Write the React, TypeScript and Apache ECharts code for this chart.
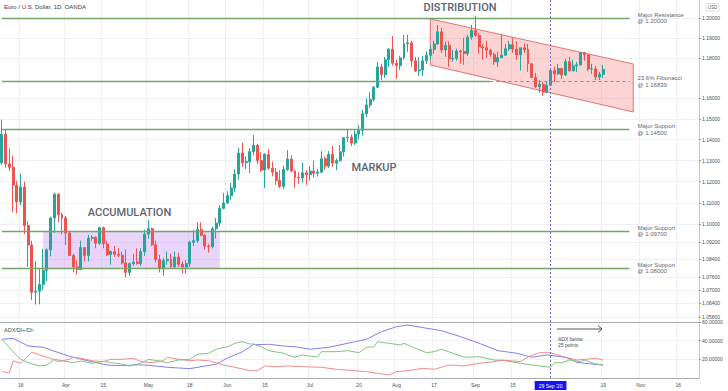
import React, { useEffect, useRef } from 'react';
import * as echarts from 'echarts';

// ---------- calendar (weekday bars) ----------
const FIRST_DAY = '2020-03-09';
const LAST_DAY = '2020-11-23';

// ---------- daily candles: [MM-DD, open, high, low, close] ----------
const candles: [string, number, number, number, number][] = [
  ['03-09', 1.1289, 1.1496, 1.1279, 1.1426],
  ['03-10', 1.1426, 1.1451, 1.1267, 1.1284],
  ['03-11', 1.1284, 1.1358, 1.1250, 1.1268],
  ['03-12', 1.1268, 1.1323, 1.1056, 1.1184],
  ['03-13', 1.1184, 1.1204, 1.1052, 1.1105],
  ['03-16', 1.1105, 1.1238, 1.1090, 1.1175],
  ['03-17', 1.1175, 1.1200, 1.0955, 1.0995],
  ['03-18', 1.0995, 1.1015, 1.0805, 1.0905],
  ['03-19', 1.0905, 1.0925, 1.0655, 1.0690],
  ['03-20', 1.0690, 1.0830, 1.0635, 1.0695],
  ['03-23', 1.0695, 1.0800, 1.0636, 1.0725],
  ['03-24', 1.0725, 1.0888, 1.0700, 1.0790],
  ['03-25', 1.0790, 1.0890, 1.0740, 1.0883],
  ['03-26', 1.0883, 1.1035, 1.0853, 1.1030],
  ['03-27', 1.1030, 1.1148, 1.0960, 1.1141],
  ['03-30', 1.1141, 1.1145, 1.1010, 1.1045],
  ['03-31', 1.1045, 1.1055, 1.0955, 1.1030],
  ['04-01', 1.1030, 1.1040, 1.0905, 1.0960],
  ['04-02', 1.0960, 1.0965, 1.0855, 1.0857],
  ['04-03', 1.0857, 1.0865, 1.0780, 1.0805],
  ['04-06', 1.0805, 1.0835, 1.0770, 1.0793],
  ['04-07', 1.0793, 1.0925, 1.0790, 1.0893],
  ['04-08', 1.0893, 1.0895, 1.0830, 1.0857],
  ['04-09', 1.0857, 1.0952, 1.0830, 1.0936],
  ['04-10', 1.0936, 1.0950, 1.0925, 1.0940],
  ['04-13', 1.0940, 1.0945, 1.0890, 1.0913],
  ['04-14', 1.0913, 1.0990, 1.0905, 1.0985],
  ['04-15', 1.0985, 1.0990, 1.0890, 1.0910],
  ['04-16', 1.0910, 1.0925, 1.0855, 1.0862],
  ['04-17', 1.0862, 1.0880, 1.0815, 1.0875],
  ['04-20', 1.0875, 1.0900, 1.0850, 1.0863],
  ['04-21', 1.0863, 1.0890, 1.0850, 1.0858],
  ['04-22', 1.0858, 1.0875, 1.0815, 1.0823],
  ['04-23', 1.0823, 1.0885, 1.0757, 1.0780],
  ['04-24', 1.0780, 1.0825, 1.0765, 1.0820],
  ['04-27', 1.0820, 1.0865, 1.0810, 1.0827],
  ['04-28', 1.0827, 1.0890, 1.0815, 1.0820],
  ['04-29', 1.0820, 1.0890, 1.0810, 1.0875],
  ['04-30', 1.0875, 1.0975, 1.0855, 1.0955],
  ['05-01', 1.0955, 1.1020, 1.0935, 1.0980],
  ['05-04', 1.0980, 1.0985, 1.0900, 1.0906],
  ['05-05', 1.0906, 1.0925, 1.0825, 1.0839],
  ['05-06', 1.0839, 1.0860, 1.0780, 1.0796],
  ['05-07', 1.0796, 1.0845, 1.0765, 1.0833],
  ['05-08', 1.0833, 1.0875, 1.0815, 1.0840],
  ['05-11', 1.0840, 1.0865, 1.0795, 1.0805],
  ['05-12', 1.0805, 1.0875, 1.0800, 1.0850],
  ['05-13', 1.0850, 1.0870, 1.0805, 1.0817],
  ['05-14', 1.0817, 1.0830, 1.0775, 1.0804],
  ['05-15', 1.0804, 1.0835, 1.0775, 1.0820],
  ['05-18', 1.0820, 1.0925, 1.0805, 1.0918],
  ['05-19', 1.0918, 1.0975, 1.0900, 1.0925],
  ['05-20', 1.0925, 1.1008, 1.0915, 1.0977],
  ['05-21', 1.0977, 1.1010, 1.0945, 1.0950],
  ['05-22', 1.0950, 1.0955, 1.0885, 1.0900],
  ['05-25', 1.0900, 1.0910, 1.0870, 1.0898],
  ['05-26', 1.0898, 1.0990, 1.0890, 1.0980],
  ['05-27', 1.0980, 1.1030, 1.0935, 1.1006],
  ['05-28', 1.1006, 1.1090, 1.0990, 1.1075],
  ['05-29', 1.1075, 1.1147, 1.1070, 1.1100],
  ['06-01', 1.1100, 1.1155, 1.1095, 1.1134],
  ['06-02', 1.1134, 1.1195, 1.1115, 1.1170],
  ['06-03', 1.1170, 1.1258, 1.1150, 1.1236],
  ['06-04', 1.1236, 1.1360, 1.1210, 1.1336],
  ['06-05', 1.1336, 1.1385, 1.1270, 1.1290],
  ['06-08', 1.1290, 1.1320, 1.1260, 1.1295],
  ['06-09', 1.1295, 1.1360, 1.1240, 1.1343],
  ['06-10', 1.1343, 1.1422, 1.1325, 1.1373],
  ['06-11', 1.1373, 1.1380, 1.1285, 1.1300],
  ['06-12', 1.1300, 1.1340, 1.1245, 1.1255],
  ['06-15', 1.1255, 1.1335, 1.1170, 1.1330],
  ['06-16', 1.1330, 1.1355, 1.1255, 1.1264],
  ['06-17', 1.1264, 1.1295, 1.1225, 1.1245],
  ['06-18', 1.1245, 1.1265, 1.1185, 1.1206],
  ['06-19', 1.1206, 1.1255, 1.1170, 1.1178],
  ['06-22', 1.1178, 1.1275, 1.1165, 1.1258],
  ['06-23', 1.1258, 1.1350, 1.1250, 1.1307],
  ['06-24', 1.1307, 1.1325, 1.1245, 1.1251],
  ['06-25', 1.1251, 1.1255, 1.1170, 1.1220],
  ['06-26', 1.1220, 1.1245, 1.1190, 1.1218],
  ['06-29', 1.1218, 1.1290, 1.1195, 1.1242],
  ['06-30', 1.1242, 1.1255, 1.1185, 1.1234],
  ['07-01', 1.1234, 1.1275, 1.1205, 1.1250],
  ['07-02', 1.1250, 1.1300, 1.1220, 1.1240],
  ['07-03', 1.1240, 1.1260, 1.1225, 1.1245],
  ['07-06', 1.1245, 1.1345, 1.1240, 1.1309],
  ['07-07', 1.1309, 1.1320, 1.1255, 1.1274],
  ['07-08', 1.1274, 1.1345, 1.1265, 1.1330],
  ['07-09', 1.1330, 1.1370, 1.1270, 1.1288],
  ['07-10', 1.1288, 1.1310, 1.1255, 1.1300],
  ['07-13', 1.1300, 1.1375, 1.1295, 1.1342],
  ['07-14', 1.1342, 1.1412, 1.1320, 1.1410],
  ['07-15', 1.1410, 1.1452, 1.1390, 1.1412],
  ['07-16', 1.1412, 1.1425, 1.1370, 1.1384],
  ['07-17', 1.1384, 1.1445, 1.1375, 1.1427],
  ['07-20', 1.1427, 1.1470, 1.1400, 1.1445],
  ['07-21', 1.1445, 1.1545, 1.1420, 1.1525],
  ['07-22', 1.1525, 1.1600, 1.1510, 1.1568],
  ['07-23', 1.1568, 1.1630, 1.1555, 1.1595],
  ['07-24', 1.1595, 1.1660, 1.1585, 1.1655],
  ['07-27', 1.1655, 1.1780, 1.1650, 1.1755],
  ['07-28', 1.1755, 1.1770, 1.1690, 1.1716],
  ['07-29', 1.1716, 1.1805, 1.1700, 1.1790],
  ['07-30', 1.1790, 1.1848, 1.1755, 1.1843],
  ['07-31', 1.1843, 1.1909, 1.1761, 1.1773],
  ['08-03', 1.1773, 1.1790, 1.1696, 1.1761],
  ['08-04', 1.1761, 1.1810, 1.1740, 1.1800],
  ['08-05', 1.1800, 1.1915, 1.1790, 1.1870],
  ['08-06', 1.1870, 1.1916, 1.1830, 1.1875],
  ['08-07', 1.1875, 1.1885, 1.1755, 1.1785],
  ['08-10', 1.1785, 1.1805, 1.1730, 1.1735],
  ['08-11', 1.1735, 1.1805, 1.1710, 1.1740],
  ['08-12', 1.1740, 1.1810, 1.1710, 1.1785],
  ['08-13', 1.1785, 1.1832, 1.1770, 1.1813],
  ['08-14', 1.1813, 1.1865, 1.1790, 1.1842],
  ['08-17', 1.1842, 1.1885, 1.1820, 1.1869],
  ['08-18', 1.1869, 1.1965, 1.1865, 1.1930],
  ['08-19', 1.1930, 1.1950, 1.1825, 1.1839],
  ['08-20', 1.1839, 1.1880, 1.1805, 1.1862],
  ['08-21', 1.1862, 1.1882, 1.1755, 1.1795],
  ['08-24', 1.1795, 1.1840, 1.1780, 1.1798],
  ['08-25', 1.1798, 1.1845, 1.1785, 1.1834],
  ['08-26', 1.1834, 1.1840, 1.1770, 1.1832],
  ['08-27', 1.1832, 1.1900, 1.1765, 1.1821],
  ['08-28', 1.1821, 1.1915, 1.1810, 1.1903],
  ['08-31', 1.1903, 1.1965, 1.1890, 1.1936],
  ['09-01', 1.1936, 1.2011, 1.1905, 1.1912],
  ['09-02', 1.1912, 1.1925, 1.1820, 1.1855],
  ['09-03', 1.1855, 1.1870, 1.1790, 1.1850],
  ['09-04', 1.1850, 1.1885, 1.1800, 1.1838],
  ['09-07', 1.1838, 1.1845, 1.1805, 1.1817],
  ['09-08', 1.1817, 1.1825, 1.1765, 1.1780],
  ['09-09', 1.1780, 1.1830, 1.1755, 1.1800],
  ['09-10', 1.1800, 1.1917, 1.1800, 1.1813],
  ['09-11', 1.1813, 1.1870, 1.1810, 1.1845],
  ['09-14', 1.1845, 1.1885, 1.1835, 1.1865],
  ['09-15', 1.1865, 1.1900, 1.1825, 1.1844],
  ['09-16', 1.1844, 1.1882, 1.1790, 1.1815],
  ['09-17', 1.1815, 1.1850, 1.1737, 1.1850],
  ['09-18', 1.1850, 1.1872, 1.1825, 1.1840],
  ['09-21', 1.1840, 1.1870, 1.1730, 1.1770],
  ['09-22', 1.1770, 1.1775, 1.1700, 1.1703],
  ['09-23', 1.1703, 1.1725, 1.1650, 1.1657],
  ['09-24', 1.1657, 1.1690, 1.1627, 1.1669],
  ['09-25', 1.1669, 1.1680, 1.1612, 1.1630],
  ['09-28', 1.1630, 1.1685, 1.1625, 1.1665],
  ['09-29', 1.1665, 1.1745, 1.1660, 1.1737],
  ['09-30', 1.1737, 1.1755, 1.1680, 1.1720],
  ['10-01', 1.1720, 1.1770, 1.1715, 1.1747],
  ['10-02', 1.1747, 1.1750, 1.1695, 1.1715],
  ['10-05', 1.1715, 1.1795, 1.1710, 1.1781],
  ['10-06', 1.1781, 1.1805, 1.1745, 1.1735],
  ['10-07', 1.1735, 1.1790, 1.1735, 1.1760],
  ['10-08', 1.1760, 1.1780, 1.1730, 1.1765],
  ['10-09', 1.1765, 1.1830, 1.1760, 1.1825],
  ['10-12', 1.1825, 1.1830, 1.1785, 1.1815],
  ['10-13', 1.1815, 1.1818, 1.1735, 1.1745],
  ['10-14', 1.1745, 1.1770, 1.1720, 1.1745],
  ['10-15', 1.1745, 1.1760, 1.1690, 1.1705],
  ['10-16', 1.1705, 1.1730, 1.1690, 1.1718],
  ['10-19', 1.1718, 1.1765, 1.1700, 1.17425],
];

const adxLine: [string, number][] = [
  ['03-09', 41.5], ['03-12', 42.5], ['03-18', 34.3], ['03-24', 32.9], ['03-26', 30.0], ['04-02', 23.3],
  ['04-08', 19.3], ['04-15', 14.7], ['04-17', 13.6], ['04-22', 13.2], ['04-28', 14.1], ['05-01', 13.6],
  ['05-08', 11.5], ['05-18', 10.0], ['05-21', 12.1], ['05-27', 14.7], ['06-01', 21.4], ['06-05', 28.2],
  ['06-10', 35.7], ['06-16', 36.1], ['06-22', 34.3], ['06-25', 33.5], ['07-01', 30.8], ['07-08', 32.9],
  ['07-17', 38.9], ['07-22', 41.5], ['07-28', 49.6], ['08-03', 55.0], ['08-06', 56.8], ['08-13', 53.3],
  ['08-19', 50.7], ['08-26', 44.3], ['09-02', 37.2], ['09-09', 29.3], ['09-16', 26.5], ['09-22', 22.2],
  ['09-28', 24.7], ['10-05', 22.2], ['10-08', 16.8], ['10-14', 15.0], ['10-19', 13.9],
];
const diPlusLine: [string, number][] = [
  ['03-09', 41.5], ['03-12', 28.2], ['03-16', 20.0], ['03-19', 15.0], ['03-23', 12.9], ['03-25', 13.9],
  ['03-27', 20.0], ['03-31', 18.5], ['04-03', 16.4], ['04-07', 18.2], ['04-10', 15.8], ['04-15', 17.9],
  ['04-17', 16.4], ['04-22', 15.0], ['04-24', 12.9], ['04-29', 15.8], ['05-01', 20.0], ['05-06', 18.2],
  ['05-08', 16.4], ['05-13', 19.3], ['05-18', 20.0], ['05-20', 25.4], ['05-25', 26.5], ['05-27', 30.8],
  ['06-01', 33.5], ['06-03', 37.2], ['06-05', 38.9], ['06-09', 36.4], ['06-10', 36.4], ['06-12', 33.5],
  ['06-16', 29.3], ['06-22', 26.5], ['06-23', 24.7], ['06-25', 22.2], ['06-29', 24.7], ['07-02', 22.8],
  ['07-03', 22.8], ['07-06', 28.2], ['07-10', 28.2], ['07-15', 29.3], ['07-20', 27.1], ['07-22', 32.9],
  ['07-24', 33.5], ['07-27', 38.9], ['07-30', 37.2], ['08-04', 35.4], ['08-05', 37.2], ['08-10', 31.8],
  ['08-13', 27.1], ['08-17', 28.2], ['08-19', 30.8], ['08-24', 26.5], ['08-27', 22.2], ['09-02', 22.8],
  ['09-08', 19.3], ['09-11', 18.5], ['09-17', 15.8], ['09-22', 13.9], ['09-29', 11.5], ['09-30', 16.4],
  ['10-02', 16.4], ['10-06', 19.3], ['10-09', 17.5], ['10-12', 19.3], ['10-15', 15.0], ['10-19', 13.9],
];
const diMinusLine: [string, number][] = [
  ['03-09', 6.8], ['03-11', 5.7], ['03-12', 18.5], ['03-16', 15.8], ['03-17', 20.0], ['03-19', 27.5],
  ['03-23', 24.7], ['03-26', 21.1], ['03-30', 17.5], ['04-02', 20.0], ['04-03', 22.2], ['04-07', 21.1],
  ['04-10', 18.5], ['04-15', 17.5], ['04-17', 20.0], ['04-22', 20.0], ['04-27', 21.1], ['04-29', 17.5],
  ['05-04', 16.4], ['05-07', 18.5], ['05-08', 22.2], ['05-13', 20.0], ['05-18', 18.5], ['05-20', 19.3],
  ['05-25', 18.5], ['05-29', 13.9], ['06-03', 11.5], ['06-09', 7.8], ['06-11', 7.8], ['06-15', 12.9],
  ['06-18', 12.1], ['06-23', 12.9], ['06-29', 12.1], ['07-06', 11.5], ['07-10', 9.3], ['07-17', 7.8],
  ['07-22', 6.8], ['07-27', 5.0], ['07-30', 3.2], ['08-03', 6.8], ['08-06', 7.8], ['08-12', 10.4],
  ['08-17', 9.3], ['08-21', 13.9], ['08-27', 12.9], ['09-02', 15.8], ['09-08', 17.5], ['09-10', 19.3],
  ['09-17', 17.5], ['09-21', 22.8], ['09-24', 27.1], ['09-29', 27.1], ['10-01', 24.7], ['10-05', 22.2],
  ['10-08', 19.3], ['10-12', 20.0], ['10-15', 21.1], ['10-19', 19.3],
];

// ---------- axes ----------
const priceMin = 1.0557;
const priceMax = 1.2091;
const priceTicks = [1.2, 1.19, 1.18, 1.16, 1.15, 1.14, 1.13, 1.12, 1.11, 1.1, 1.092, 1.084, 1.076, 1.07, 1.064, 1.058];
const adxTicks = [20, 40, 60];
const timeTicks: Record<string, string> = {
  '03-16': '16', '04-01': 'Apr', '04-15': '15', '05-01': 'May', '05-18': '18', '06-01': 'Jun',
  '06-15': '15', '07-01': 'Jul', '07-20': '20', '08-03': 'Aug', '08-17': '17', '09-01': 'Sep',
  '09-15': '15', '10-19': '19', '11-02': 'Nov', '11-16': '16',
};

// ---------- annotations ----------
const levels = [
  { text: 'Major Resistance', price: 1.2 },
  { text: 'Major Support', price: 1.145 },
  { text: 'Major Support', price: 1.097 },
  { text: 'Major Support', price: 1.08 },
];
const levelsFrom = '03-09';
const levelsTo = '10-28';
const fibText = '23.6% Fibonacci';
const fibPrice = 1.16839;
const fibSolidTo = '09-07';
const channelCorners: [string, number][] = [['08-14', 1.1995], ['10-29', 1.17695], ['10-29', 1.15338], ['08-14', 1.17646]];
const accumulationCorners: [string, number][] = [['03-24', 1.097], ['05-28', 1.097], ['05-28', 1.08], ['03-24', 1.08]];
const crosshairDay = '09-29';
const crosshairLabel = "29 Sep '20";
const lastPrice = 1.17425;
const lastTime = '11:38:06';

function weekdays(a: string, b: string): string[] {
  const out: string[] = [];
  const d = new Date(a + 'T00:00:00Z');
  const e = new Date(b + 'T00:00:00Z');
  while (d <= e) {
    const w = d.getUTCDay();
    if (w !== 0 && w !== 6) out.push(d.toISOString().slice(0, 10));
    d.setUTCDate(d.getUTCDate() + 1);
  }
  return out;
}

const full = (md: string) => '2020-' + md;
const L = Math.log;

export default function App() {
  const ref = useRef<HTMLDivElement>(null);
  useEffect(() => {
    if (!ref.current) return;
    const chart = echarts.init(ref.current, null, { renderer: 'svg' });
    const categories = weekdays(FIRST_DAY, LAST_DAY);
    const catIndex: Record<string, number> = {};
    categories.forEach((c, i) => (catIndex[c] = i));
    const candleMap: Record<string, number[]> = {};
    candles.forEach(([d, o, h, l, c]) => (candleMap[full(d)] = [L(o), L(c), L(l), L(h)]));
    const candleData = categories.map((c) => candleMap[c] || '-');
    const tickFull: Record<string, string> = {};
    Object.keys(timeTicks).forEach((k) => (tickFull[full(k)] = timeTicks[k]));
    const isTick = (_i: number, v: string) => tickFull[v] !== undefined;
    const crossIdx = catIndex[full(crosshairDay)];

    const gridGray = '#eef0f3';
    const axisGray = '#a9acb2';
    const labelColor = '#4a4d52';
    const green = '#76a565';
    const font = 'Liberation Sans, Arial, sans-serif';
    const bigFont = 'Roboto, sans-serif';

    const levelLines: any[] = levels.map((lv) => [
      {
        coord: [full(levelsFrom), L(lv.price)],
        lineStyle: { color: green, width: 1.4, type: 'solid' },
        label: {
          show: true, position: 'end', distance: 8, formatter: `${lv.text}\n@ ${lv.price.toFixed(5)}`,
          fontSize: 6, lineHeight: 6.5, color: '#636873', fontFamily: font, align: 'left',
        },
      },
      { coord: [full(levelsTo), L(lv.price)] },
    ]);
    levelLines.push([
      { coord: [full(levelsFrom), L(fibPrice)], lineStyle: { color: green, width: 1.4, type: 'solid' }, label: { show: false } },
      { coord: [full(fibSolidTo), L(fibPrice)] },
    ]);
    levelLines.push([
      {
        coord: [full(fibSolidTo), L(fibPrice)],
        lineStyle: { color: '#8a8d93', width: 1, type: [3, 3] },
        label: {
          show: true, position: 'end', distance: 8, formatter: `${fibText}\n@ ${fibPrice.toFixed(5)}`,
          fontSize: 6, lineHeight: 6.5, color: '#636873', fontFamily: font, align: 'left',
        },
      },
      { coord: [full(levelsTo), L(fibPrice)] },
    ]);

    const pointer = (showLabel: boolean) => ({
      show: true,
      type: 'line',
      value: crossIdx,
      status: 'show',
      snap: false,
      triggerTooltip: false,
      triggerOn: 'none',
      lineStyle: { color: '#6a6ad8', width: 1, type: [2, 2] },
      label: {
        show: showLabel,
        formatter: () => crosshairLabel,
        backgroundColor: '#1414f5',
        color: '#fff',
        fontSize: 5,
        fontFamily: font,
        padding: [2, 4],
        margin: 3,
        borderRadius: 0,
      },
      handle: { show: false },
    });

    const bigText = (text: string, x: number, y: number) => ({
      type: 'text', x, y, z: 100,
      style: { text, fontSize: 11, fill: '#5d6470', fontFamily: bigFont, fontWeight: 500, verticalAlign: 'middle', align: 'center' },
    });

    const option: any = {
      animation: false,
      backgroundColor: '#ffffff',
      axisPointer: { triggerOn: 'none' },
      grid: [
        { left: -2.7, right: 29, top: 0, height: 322 },
        { left: -2.7, right: 29, top: 322, height: 56 },
      ],
      xAxis: [
        {
          type: 'category', gridIndex: 0, data: categories, boundaryGap: true,
          axisLine: { show: true, lineStyle: { color: axisGray, width: 1 } },
          axisTick: { show: false }, axisLabel: { show: false },
          splitLine: { show: true, interval: isTick, lineStyle: { color: gridGray, width: 1 } },
          axisPointer: pointer(false),
        },
        {
          type: 'category', gridIndex: 1, data: categories, boundaryGap: true,
          axisLine: { show: true, lineStyle: { color: axisGray, width: 1 } },
          axisTick: { show: false },
          axisLabel: {
            show: true, interval: isTick, formatter: (v: string) => tickFull[v] || '',
            fontSize: 5, color: labelColor, fontFamily: font, margin: 4,
          },
          splitLine: { show: true, interval: isTick, lineStyle: { color: gridGray, width: 1 } },
          axisPointer: pointer(true),
        },
      ],
      yAxis: [
        {
          type: 'value', gridIndex: 0, position: 'right', min: L(priceMin), max: L(priceMax), scale: true,
          axisLine: { show: true, lineStyle: { color: '#c5c8cd', width: 1 } },
          axisTick: { show: true, length: 2, customValues: priceTicks.map(L), lineStyle: { color: '#9a9da3' } },
          axisLabel: {
            show: true, customValues: priceTicks.map(L), formatter: (v: number) => Math.exp(v).toFixed(5),
            fontSize: 5, color: labelColor, fontFamily: font, margin: 3,
          },
          splitLine: { show: true, lineStyle: { color: gridGray, width: 1 } },
        },
        {
          type: 'value', gridIndex: 1, position: 'right', min: 0, max: 60,
          axisLine: { show: true, lineStyle: { color: '#c5c8cd', width: 1 } },
          axisTick: { show: true, length: 2, customValues: adxTicks, lineStyle: { color: '#9a9da3' } },
          axisLabel: {
            show: true, customValues: adxTicks, formatter: (v: number) => v.toFixed(5),
            fontSize: 5, color: labelColor, fontFamily: font, margin: 3,
          },
          splitLine: { show: true, lineStyle: { color: gridGray, width: 1 } },
        },
      ],
      series: [
        {
          type: 'custom', xAxisIndex: 0, yAxisIndex: 0, z: 1, silent: true,
          data: [[0, L(1.1)]],
          renderItem: (_params: any, api: any) => {
            const pts = (corners: [string, number][]) =>
              corners.map(([d, p]) => api.coord([catIndex[full(d)], L(p)]));
            return {
              type: 'group',
              children: [
                {
                  type: 'polygon', shape: { points: pts(channelCorners) },
                  style: { fill: 'rgba(242,90,90,0.26)', stroke: '#e57373', lineWidth: 1 },
                },
                {
                  type: 'polygon', shape: { points: pts(accumulationCorners) },
                  style: { fill: 'rgba(195,135,240,0.36)', stroke: 'none' },
                },
              ],
            };
          },
        },
        {
          type: 'candlestick', xAxisIndex: 0, yAxisIndex: 0, z: 3, data: candleData, barWidth: '66%',
          itemStyle: { color: '#26a69a', color0: '#ef5350', borderColor: '#26a69a', borderColor0: '#ef5350', borderWidth: 1 },
          markLine: {
            silent: true, symbol: ['none', 'none'], animation: false, z: 4,
            data: [
              ...levelLines,
              {
                yAxis: L(lastPrice),
                lineStyle: { opacity: 0 },
                label: {
                  show: true, position: 'end', distance: 0, offset: [0, 3],
                  formatter: `${lastPrice.toFixed(5)}\n${lastTime}`,
                  backgroundColor: '#26a69a', color: '#fff', fontSize: 5, lineHeight: 7,
                  padding: [1, 4, 0, 4], fontFamily: font, align: 'left',
                },
              },
            ],
          },
        },
        {
          name: 'ADX', type: 'line', xAxisIndex: 1, yAxisIndex: 1, showSymbol: false, symbol: 'none', z: 2,
          lineStyle: { color: '#8080ee', width: 1 }, itemStyle: { color: '#8080ee' },
          data: adxLine.map(([d, v]) => [full(d), v]),
        },
        {
          name: 'DI+', type: 'line', xAxisIndex: 1, yAxisIndex: 1, showSymbol: false, symbol: 'none', z: 2,
          lineStyle: { color: '#80c480', width: 1 }, itemStyle: { color: '#80c480' },
          data: diPlusLine.map(([d, v]) => [full(d), v]),
        },
        {
          name: 'DI-', type: 'line', xAxisIndex: 1, yAxisIndex: 1, showSymbol: false, symbol: 'none', z: 2,
          lineStyle: { color: '#f08c8c', width: 1 }, itemStyle: { color: '#f08c8c' },
          data: diMinusLine.map(([d, v]) => [full(d), v]),
        },
      ],
      graphic: [
        { type: 'text', x: 4, y: 7, z: 100, style: { text: 'Euro / U.S. Dollar, 1D, OANDA', fontSize: 6, fill: '#3a3d42', fontFamily: font, verticalAlign: 'middle', align: 'left' } },
        { type: 'rect', z: 100, shape: { x: 706, y: 3.5, width: 13, height: 7.5, r: 1 }, style: { fill: '#fff', stroke: '#d0d3d8', lineWidth: 0.8 } },
        { type: 'text', x: 712.5, y: 7.3, z: 101, style: { text: 'USD', fontSize: 4.5, fill: '#5a5d62', fontFamily: font, verticalAlign: 'middle', align: 'center' } },
        bigText('DISTRIBUTION', 460, 7),
        bigText('ACCUMULATION', 129.5, 212.5),
        bigText('MARKUP', 374, 167.5),
        { type: 'text', x: 4, y: 330, z: 100, style: { text: 'ADX/DI+/DI-', fontSize: 5.5, fill: '#4a4d52', fontFamily: font, verticalAlign: 'middle', align: 'left' } },
        { type: 'line', z: 100, shape: { x1: 557, y1: 329, x2: 602, y2: 329 }, style: { stroke: '#55585e', lineWidth: 1 } },
        { type: 'polyline', z: 100, shape: { points: [[598, 325.5], [602, 329], [598, 332.5]] }, style: { stroke: '#55585e', fill: 'none', lineWidth: 1 } },
        { type: 'text', x: 558, y: 336, z: 100, style: { text: 'ADX below\n25 points', fontSize: 5, lineHeight: 6, fill: '#4a4d52', fontFamily: font, verticalAlign: 'top', align: 'left' } },
      ],
    };
    chart.setOption(option);
    return () => chart.dispose();
  }, []);
  return <div ref={ref} style={{ position: 'fixed', left: 0, top: 0, width: 728, height: 391 }} />;
}
